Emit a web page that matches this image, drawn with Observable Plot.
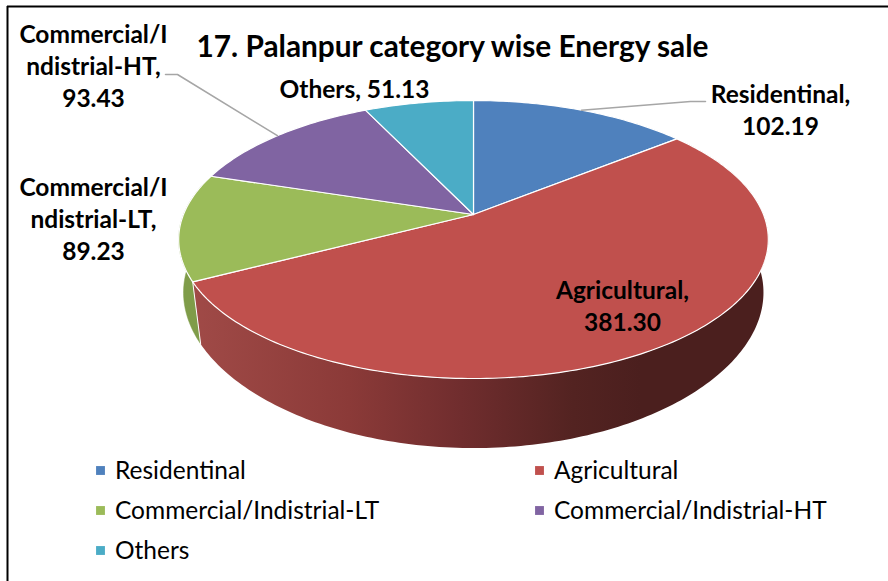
<!DOCTYPE html>
<html>
<head>
<meta charset="utf-8">
<script src="https://cdn.jsdelivr.net/npm/d3@7"></script>
<script src="https://cdn.jsdelivr.net/npm/@observablehq/plot@0.6"></script>
<style>html,body{margin:0;padding:0;background:#fff}svg{display:block}</style>
</head>
<body>
<div id="chart"></div>
<script>
// Data
const categories = ["Residentinal", "Agricultural", "Commercial/Indistrial-LT", "Commercial/Indistrial-HT", "Others"];
const sales = [102.19, 381.30, 89.23, 93.43, 51.13];
const wrappedNames = ["Residentinal", "Agricultural", "Commercial/I\nndistrial-LT", "Commercial/I\nndistrial-HT", "Others"];
const topColors = ["#4f81bd", "#c0504d", "#9bbb59", "#8064a2", "#4bacc6"];
const titleText = "17. Palanpur category wise Energy sale";

// Layout: perspective view of the pie
const W = 888, H = 581;
const view = {cx: 473, cy: 214, A: 290, B: 134.5, p: 0.18, D: 57, shrink: 0.99, shrinkFront: 0.04};
const font = "Lato, Carlito, 'Open Sans', sans-serif";
const labelPos = [
  {x: 780, y: 108, sep: "\n", elbow: [690, 101], end: [705, 101]},
  {x: 622, y: 304, sep: "\n"},
  {x: 93, y: 217, sep: "\n"},
  {x: 93, y: 64, sep: "\n", elbow: [177, 74], end: [165, 74]},
  {x: 354, y: 87, sep: " "}
];
const legendPos = [[0, 0], [1, 0], [0, 1], [1, 1], [0, 2]];
const legend = {x0: 100, dx: 439, y0: 470, dy: 40, gap: 14.5, textDy: 1};

// Project an angle on the pie's rim to the page
function rim(a, drop = false) {
  const u = Math.sin(a), v = Math.cos(a), w = 1 + view.p * v;
  const s = drop ? view.shrink + view.shrinkFront * Math.min(v, 0) : 1;
  return {
    x: view.cx + view.A * u / w * s,
    y: view.cy - view.B * v / w + (drop ? view.D / w : 0)
  };
}
const slices = d3.pie().sort(null).value(d => d)(sales);
function arcAngles(s) {
  const n = Math.max(2, Math.ceil((s.endAngle - s.startAngle) / (Math.PI / 180)));
  return d3.range(n + 1).map(i => s.startAngle + (s.endAngle - s.startAngle) * i / n);
}
const topRows = slices.flatMap((s, i) => {
  const centre = {x: view.cx, y: view.cy};
  return [centre, ...arcAngles(s).map(a => rim(a)), centre].map(p => ({...p, cat: categories[i]}));
});
const sideRows = i => {
  const as = arcAngles(slices[i]);
  const top = as.map(a => rim(a)), bottom = as.map(a => rim(a, true)).reverse();
  return [...top, ...bottom, top[0]].map(p => ({...p, cat: categories[i]}));
};
const seamRows = [rim(slices[1].endAngle), rim(slices[1].endAngle, true)];
const leaderRows = labelPos.flatMap((l, i) => {
  if (!l.elbow) return [];
  const s = slices[i];
  const p = rim((s.startAngle + s.endAngle) / 2);
  return [p, {x: l.elbow[0], y: l.elbow[1]}, {x: l.end[0], y: l.end[1]}].map(q => ({...q, cat: categories[i]}));
});
const labelRows = categories.map((c, i) => ({
  x: labelPos[i].x, y: labelPos[i].y,
  text: `${wrappedNames[i]},${labelPos[i].sep}${sales[i].toFixed(2)}`
}));
const legendRows = categories.map((c, i) => ({
  cat: c,
  x: legend.x0 + legendPos[i][0] * legend.dx,
  y: legend.y0 + legendPos[i][1] * legend.dy
}));

// Gradient definition for the agricultural wall
function gradientDefs() {
  const ns = "http://www.w3.org/2000/svg";
  const defs = document.createElementNS(ns, "defs");
  const g = document.createElementNS(ns, "linearGradient");
  g.setAttribute("id", "agriWall");
  g.setAttribute("gradientUnits", "userSpaceOnUse");
  g.setAttribute("x1", 192); g.setAttribute("x2", 640);
  g.setAttribute("y1", 0); g.setAttribute("y2", 0);
  [[0, "#a04a47"], [0.35, "#8b3a38"], [0.6, "#702d2e"], [0.85, "#532321"], [1, "#4b1f1e"]].forEach(([o, c]) => {
    const st = document.createElementNS(ns, "stop");
    st.setAttribute("offset", o); st.setAttribute("stop-color", c);
    g.appendChild(st);
  });
  defs.appendChild(g);
  return defs;
}

const chart = Plot.plot({
  width: W, height: H,
  margin: 0,
  style: {background: "#fff", fontFamily: font},
  x: {domain: [0, W], range: [0, W], axis: null},
  y: {domain: [0, H], range: [0, H], axis: null},
  color: {domain: categories, range: topColors},
  marks: [
    gradientDefs,
    Plot.ruleX([7], {y1: 6, y2: H, stroke: "#000", strokeWidth: 2}),
    Plot.ruleY([6], {x1: 7, x2: W, stroke: "#000", strokeWidth: 2}),
    // Walls
    Plot.line(sideRows(2), {x: "x", y: "y", fill: "#7f9c49", stroke: "#7f9c49", strokeWidth: 0.5}),
    Plot.line(sideRows(1), {x: "x", y: "y", fill: "url(#agriWall)", stroke: "none"}),
    Plot.line(seamRows, {x: "x", y: "y", stroke: "#fff", strokeWidth: 1}),
    // Top face
    Plot.line(topRows, {x: "x", y: "y", z: "cat", fill: "cat", stroke: "#fff", strokeWidth: 1.2, strokeLinejoin: "round"}),
    // Leaders
    Plot.line(leaderRows, {x: "x", y: "y", z: "cat", stroke: "#a6a6a6", strokeWidth: 1.5}),
    // Labels
    Plot.text(labelRows, {x: "x", y: "y", text: "text", fontSize: 24.5, fontWeight: 700, fill: "#000", lineHeight: 1.3, lineAnchor: "middle"}),
    Plot.text([titleText], {x: () => 452, y: () => 47, text: d => d, fontSize: 29.8, fontWeight: 700, fill: "#000"}),
    // Legend
    Plot.dot(legendRows, {x: "x", y: "y", fill: "cat", symbol: "square", r: 5}),
    Plot.text(legendRows, {x: d => d.x + legend.gap, y: d => d.y + legend.textDy, text: "cat", textAnchor: "start", fontSize: 24.5, fill: "#000"})
  ]
});
document.getElementById("chart").appendChild(chart);
</script>
</body>
</html>
